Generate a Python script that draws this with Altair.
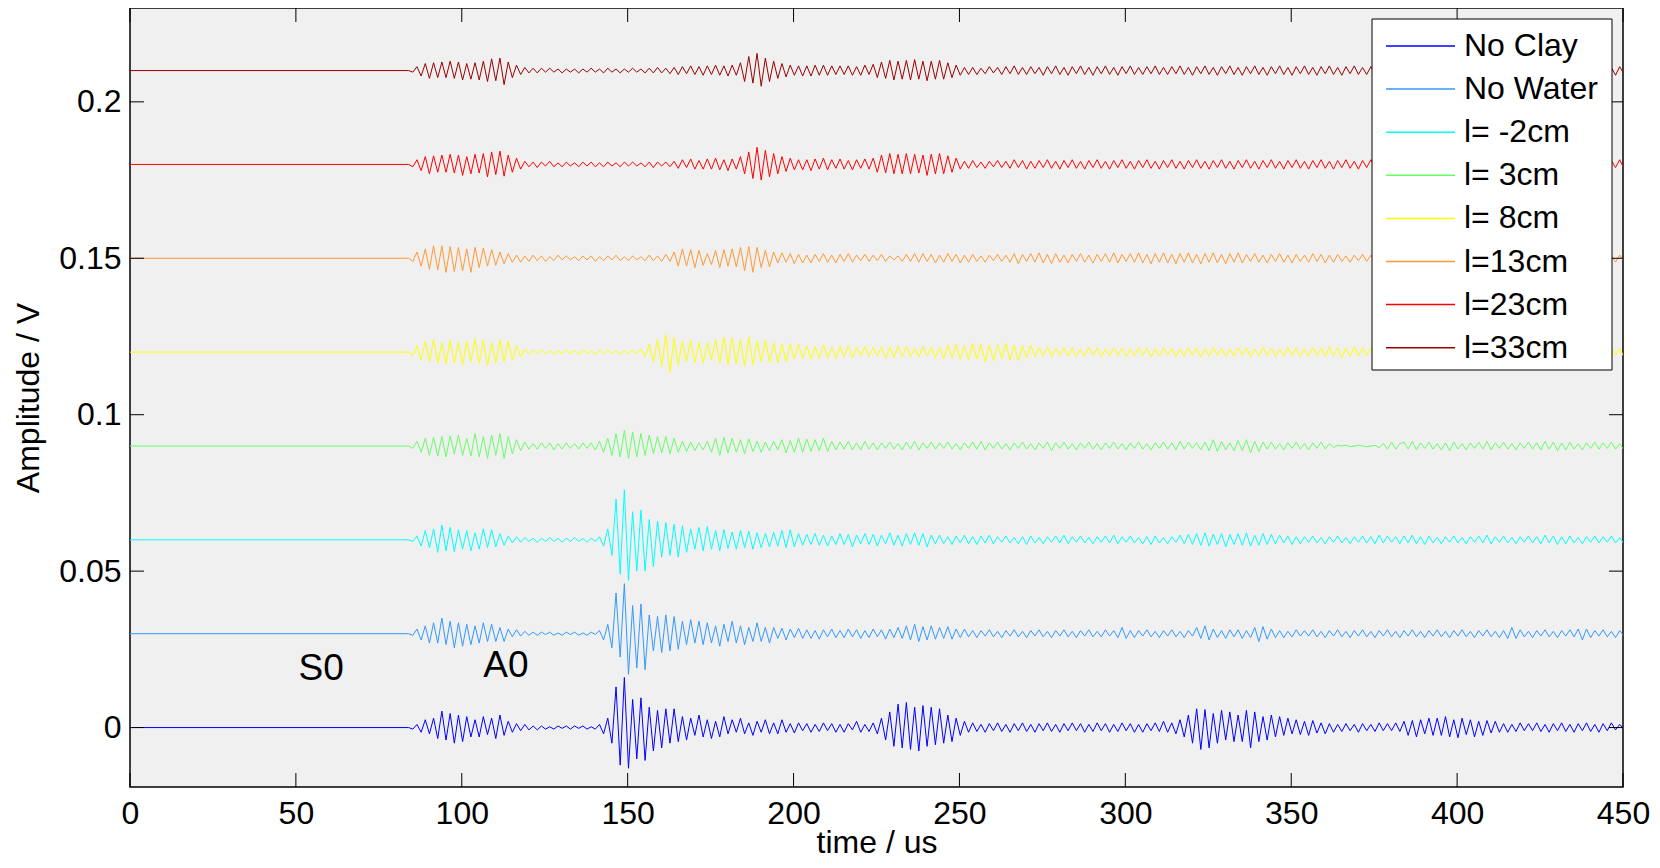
import altair as alt
import pandas as pd

# ---------------- data ----------------
T_START = 84.0     # us, start of the recorded wave packet (flat before)
T_STEP = 1.25      # us between successive extrema
UNIT = 0.00025     # V per data unit (0.25 mV)

SERIES = ["No Clay", "No Water", "l= -2cm", "l= 3cm", "l= 8cm", "l=13cm", "l=23cm", "l=33cm"]
OFFSETS = [0.0, 0.03, 0.06, 0.09, 0.12, 0.15, 0.18, 0.21]
COLORS = ["#0000ff", "#3399ff", "#00ffff", "#66ff66", "#ffff00", "#ff9933", "#ff0000", "#990000"]

X_TICKS = [0, 50, 100, 150, 200, 250, 300, 350, 400, 450]
Y_TICKS = [0, 0.05, 0.1, 0.15, 0.2]

ANNOT_TEXT = ["S0", "A0"]
ANNOT_T = [57.6, 113.3]
ANNOT_V = [0.0188, 0.0197]

# each row = 8 extrema = 10 us (rows start at 84, 94, 104, ... us)
NO_CLAY = [
    [0, -2, 4, -6, 10, -8, 12, -14], [21, -16, 18, -20, 16, -18, 14, -12],
    [10, -12, 14, -9, 12, -14, 16, -10], [8, -6, 5, -4, 4, -3, 2, -3],
    [2, -2, 1, -2, 2, -1, 2, -2], [2, -1, 2, -2, 1, -2, 4, -8],
    [12, -20, 52, -48, 64, -52, 36, -40], [38, -42, 26, -30, 22, -26, 24, -20],
    [24, -18, 14, -16, 12, -10, 16, -12], [10, -14, 8, -12, 14, -8, 10, -6],
    [12, -8, 6, -10, 8, -6, 10, -8], [6, -8, 10, -6, 5, -7, 6, -4],
    [5, -6, 4, -5, 6, -4, 5, -6], [4, -6, 5, -3, 8, -6, 4, -5],
    [6, -8, 12, -16, 20, -24, 30, -26], [32, -28, 26, -30, 28, -24, 26, -22],
    [24, -20, 16, -18, 12, -10, 8, -6], [6, -5, 4, -6, 5, -4, 6, -5],
    [4, -6, 5, -4, 6, -5, 4, -6], [5, -4, 6, -5, 4, -6, 5, -4],
    [6, -4, 5, -6, 4, -5, 6, -4], [5, -6, 4, -5, 6, -4, 5, -6],
    [4, -6, 5, -4, 6, -5, 8, -6], [6, -8, 10, -12, 16, -20, 24, -28],
    [23, -26, 18, -20, 22, -16, 20, -18], [16, -18, 22, -26, 20, -18, 14, -16],
    [16, -12, 14, -10, 12, -8, 10, -9], [8, -10, 9, -7, 6, -8, 5, -6],
    [4, -5, 5, -4, 4, -6, 5, -4], [4, -5, 6, -4, 5, -4, 6, -5],
    [8, -10, 9, -12, 10, -8, 12, -10], [12, -10, 14, -12, 10, -13, 12, -9],
    [10, -12, 8, -10, 9, -7, 8, -6], [5, -6, 4, -5, 6, -4, 5, -4],
    [6, -5, 4, -6, 5, -4, 6, -5], [4, -6, 5, -4, 6, -5, 4, -6],
    [5, -4, 6, -3, 4, -2, 3, 2],
]
NO_WATER = [
    [0, -2, 6, -8, 10, -12, 14, -12], [20, -14, 16, -18, 14, -16, 12, -14],
    [10, -12, 14, -10, 12, -10, 8, -10], [6, -4, 5, -3, 3, -2, 2, -2],
    [2, -1, 2, -2, 1, -2, 2, -1], [2, -2, 1, -2, 2, -1, 4, -8],
    [12, -18, 52, -30, 64, -52, 36, -44], [38, -46, 24, -22, 22, -24, 24, -22],
    [22, -20, 16, -14, 18, -12, 16, -14], [14, -12, 10, -16, 12, -10, 16, -12],
    [10, -14, 8, -10, 14, -10, 8, -12], [8, -6, 7, -8, 6, -5, 7, -6],
    [5, -6, 4, -7, 5, -4, 6, -5], [4, -5, 6, -4, 5, -6, 4, -5],
    [6, -4, 5, -7, 6, -5, 8, -6], [10, -8, 12, -10, 9, -8, 10, -7],
    [8, -6, 9, -7, 6, -5, 6, -4], [4, -5, 4, -3, 5, -4, 3, -5],
    [4, -3, 5, -4, 3, -5, 4, -3], [5, -4, 3, -5, 4, -3, 5, -4],
    [3, -5, 4, -3, 5, -4, 3, -4], [5, -3, 4, -5, 8, -6, 4, -5],
    [4, -3, 5, -4, 3, -5, 4, -3], [5, -4, 3, -5, 4, -3, 8, -6],
    [10, -8, 6, -5, 4, -6, 5, -4], [5, -6, 4, -5, 8, -10, 9, -7],
    [6, -5, 4, -5, 3, -4, 5, -3], [4, -3, 5, -4, 3, -5, 4, -3],
    [5, -4, 3, -5, 4, -3, 5, -4], [3, -5, 4, -3, 5, -4, 3, -5],
    [4, -3, 5, -4, 3, -5, 4, -3], [5, -4, 3, -5, 4, -3, 5, -4],
    [3, -5, 4, -3, 5, -4, 3, -5], [4, -6, 8, -6, 5, -4, 3, -5],
    [4, -3, 5, -4, 3, -5, 4, -3], [5, -4, 6, -8, 6, -5, 4, -3],
    [5, -4, 3, -5, 4, -3, 5, -4],
]
L_M2 = [
    [0, -2, 5, -8, 12, -10, 14, -16], [19, -14, 16, -15, 13, -12, 12, -14],
    [9, -12, 14, -10, 13, -9, 8, -7], [5, -4, 4, -3, 3, -2, 2, -3],
    [2, -2, 3, -2, 2, -3, 2, -2], [3, -2, 2, -3, 2, -2, 4, -8],
    [14, -20, 52, -44, 64, -52, 36, -40], [38, -40, 26, -34, 24, -22, 22, -20],
    [20, -22, 18, -16, 14, -12, 16, -14], [17, -12, 12, -14, 13, -11, 10, -12],
    [12, -10, 11, -12, 9, -10, 8, -9], [10, -8, 12, -10, 13, -9, 8, -7],
    [7, -6, 8, -7, 6, -8, 5, -6], [8, -6, 7, -9, 6, -5, 8, -6],
    [7, -8, 6, -5, 9, -7, 6, -8], [8, -6, 9, -7, 8, -9, 6, -5],
    [6, -5, 4, -6, 5, -4, 6, -5], [4, -6, 5, -4, 6, -5, 4, -3],
    [5, -4, 3, -5, 4, -6, 5, -4], [3, -5, 4, -3, 5, -4, 6, -5],
    [4, -3, 5, -4, 3, -5, 4, -3], [5, -4, 6, -5, 4, -3, 5, -4],
    [3, -5, 4, -6, 5, -4, 3, -5], [4, -3, 6, -5, 7, -6, 8, -7],
    [9, -8, 7, -6, 8, -9, 7, -6], [8, -7, 9, -8, 6, -7, 8, -6],
    [7, -5, 6, -4, 5, -6, 4, -5], [4, -3, 5, -4, 3, -5, 4, -3],
    [5, -4, 3, -5, 4, -3, 5, -4], [4, -5, 6, -4, 5, -3, 4, -5],
    [5, -4, 6, -5, 4, -6, 5, -4], [3, -5, 4, -3, 5, -4, 3, -5],
    [4, -3, 5, -4, 6, -5, 4, -3], [5, -4, 3, -5, 4, -3, 5, -4],
    [4, -5, 6, -4, 5, -6, 4, -5], [5, -4, 3, -5, 4, -3, 5, -4],
    [4, -3, 5, -4, 3, -5, 4, -3],
]
L_3 = [
    [0, -3, 6, -8, 10, -12, 11, -13], [12, -14, 13, -10, 14, -12, 10, -13],
    [16, -14, 12, -16, 14, -12, 16, -16], [12, -10, 8, -6, 5, -4, 3, -4],
    [4, -3, 4, -5, 3, -4, 4, -3], [3, -4, 4, -3, 4, -5, 6, -8],
    [10, -12, 16, -14, 20, -16, 18, -14], [16, -12, 14, -10, 12, -9, 12, -10],
    [10, -8, 6, -7, 5, -6, 4, -5], [6, -8, 10, -12, 11, -9, 10, -8],
    [8, -10, 9, -7, 6, -8, 5, -6], [6, -5, 8, -9, 7, -8, 10, -8],
    [9, -7, 8, -6, 10, -7, 6, -5], [5, -4, 6, -5, 4, -5, 6, -4],
    [4, -5, 4, -3, 5, -4, 3, -5], [5, -4, 6, -5, 4, -3, 5, -4],
    [4, -3, 5, -4, 3, -5, 4, -3], [5, -4, 6, -5, 4, -3, 5, -4],
    [3, -5, 4, -3, 5, -4, 3, -5], [4, -3, 5, -6, 4, -3, 5, -4],
    [3, -5, 4, -3, 5, -4, 3, -5], [4, -3, 5, -4, 3, -5, 4, -3],
    [5, -4, 3, -5, 4, -3, 5, -4], [4, -5, 6, -4, 5, -3, 4, -5],
    [5, -6, 8, -7, 6, -5, 4, -6], [7, -6, 8, -9, 6, -7, 5, -4],
    [5, -4, 3, -5, 4, -3, 5, -4], [3, -5, 4, -3, 5, -4, 3, -2],
    [1, 0, 1, -1, 0, 1, 0, -1], [0, 1, -2, 3, -4, 5, -4, 3],
    [5, -4, 6, -5, 4, -3, 5, -4], [3, -5, 4, -6, 5, -4, 3, -5],
    [4, -3, 5, -4, 6, -5, 4, -3], [5, -4, 3, -5, 4, -3, 5, -4],
    [4, -5, 6, -4, 5, -6, 4, -5], [5, -4, 3, -5, 4, -3, 5, -4],
    [4, -3, 5, -4, 3, -5, 4, -3],
]
L_8 = [
    [0, -4, 8, -10, 14, -12, 16, -14], [12, -15, 16, -14, 13, -16, 14, -12],
    [17, -14, 15, -17, 12, -14, 16, -12], [14, -10, 8, -6, 4, -3, 3, -2],
    [3, -2, 2, -3, 2, -2, 3, -2], [2, -3, 3, -2, 2, -3, 2, -2],
    [3, -2, 2, -3, 2, -2, 3, -2], [4, -6, 10, -12, 16, -18, 22, -26],
    [18, -16, 14, -12, 15, -13, 12, -14], [12, -10, 16, -14, 19, -16, 18, -15],
    [16, -18, 19, -16, 14, -12, 15, -13], [12, -14, 10, -12, 11, -9, 10, -8],
    [8, -9, 7, -8, 9, -7, 6, -8], [7, -6, 8, -7, 6, -5, 7, -6],
    [6, -5, 7, -8, 6, -7, 8, -6], [7, -6, 5, -6, 7, -5, 6, -7],
    [6, -8, 9, -7, 10, -9, 8, -10], [11, -9, 10, -12, 9, -11, 10, -8],
    [11, -10, 9, -11, 8, -7, 9, -6], [6, -5, 7, -6, 5, -4, 6, -5],
    [5, -6, 4, -5, 6, -4, 5, -6], [4, -5, 6, -4, 5, -6, 4, -5],
    [6, -4, 5, -6, 4, -5, 6, -4], [5, -6, 4, -5, 6, -4, 5, -6],
    [4, -5, 6, -4, 5, -6, 4, -5], [6, -4, 5, -6, 4, -5, 6, -4],
    [5, -6, 4, -5, 6, -4, 5, -6], [4, -5, 6, -4, 5, -6, 7, -5],
    [6, -7, 5, -6, 7, -5, 6, -4], [5, -6, 4, -5, 6, -4, 5, -6],
    [4, -5, 6, -4, 5, -6, 4, -5], [6, -4, 5, -6, 4, -5, 6, -4],
    [5, -6, 4, -5, 6, -4, 5, -6], [4, -5, 6, -4, 5, -6, 4, -5],
    [6, -4, 5, -6, 4, -5, 6, -4], [5, -6, 4, -5, 6, -4, 5, -6],
    [4, -5, 6, -4, 5, -6, 4, -5],
]
L_13 = [
    [0, -4, 8, -10, 12, -14, 16, -15], [16, -18, 15, -17, 14, -16, 12, -18],
    [14, -12, 13, -10, 11, -9, 8, -7], [6, -5, 4, -5, 3, -4, 4, -3],
    [3, -4, 2, -3, 4, -2, 3, -2], [2, -3, 3, -2, 3, -4, 2, -3],
    [3, -2, 4, -3, 2, -3, 3, -2], [2, -3, 4, -3, 3, -4, 5, -4],
    [8, -10, 12, -10, 11, -12, 10, -9], [6, -8, 10, -12, 11, -10, 12, -11],
    [14, -16, 15, -18, 14, -12, 10, -11], [8, -6, 7, -5, 6, -7, 5, -6],
    [4, -6, 5, -4, 6, -5, 4, -6], [5, -4, 6, -5, 4, -3, 5, -4],
    [4, -3, 5, -4, 3, -2, 3, -4], [5, -4, 6, -5, 6, -4, 5, -6],
    [4, -5, 6, -4, 5, -6, 4, -5], [5, -4, 3, -5, 4, -3, 5, -4],
    [4, -5, 6, -7, 5, -4, 6, -5], [7, -6, 5, -7, 6, -5, 4, -6],
    [5, -4, 6, -5, 4, -6, 5, -4], [6, -5, 7, -6, 5, -4, 6, -5],
    [7, -6, 5, -7, 6, -5, 7, -6], [5, -7, 6, -5, 7, -6, 5, -7],
    [6, -5, 7, -6, 5, -7, 6, -5], [7, -6, 5, -4, 6, -5, 4, -6],
    [5, -4, 6, -5, 4, -6, 5, -4], [4, -5, 6, -4, 5, -6, 4, -5],
    [5, -4, 3, -5, 4, -3, 5, -4], [4, -5, 6, -4, 5, -6, 4, -5],
    [5, -4, 3, -5, 4, -3, 5, -4], [4, -5, 6, -4, 5, -6, 4, -5],
    [5, -4, 3, -5, 4, -3, 5, -4], [4, -5, 6, -4, 5, -6, 4, -5],
    [5, -4, 3, -5, 4, -3, 5, -4], [4, -5, 6, -4, 5, -6, 4, -5],
    [5, -4, 3, -5, 4, -3, 5, -4],
]
L_23 = [
    [0, -3, 6, -8, 10, -12, 11, -10], [12, -10, 13, -11, 12, -14, 10, -12],
    [13, -11, 14, -16, 16, -13, 17, -15], [12, -10, 8, -6, 4, -3, 3, -4],
    [3, -2, 4, -3, 2, -3, 3, -2], [2, -3, 3, -2, 3, -3, 2, -3],
    [3, -2, 2, -3, 3, -2, 3, -2], [2, -3, 3, -4, 3, -2, 3, -3],
    [4, -5, 6, -4, 7, -6, 5, -6], [7, -6, 8, -7, 6, -8, 7, -6],
    [10, -12, 16, -18, 22, -20, 18, -16], [14, -12, 10, -9, 8, -7, 6, -7],
    [6, -8, 7, -6, 8, -7, 6, -5], [7, -6, 5, -7, 6, -5, 7, -6],
    [8, -10, 12, -11, 14, -12, 13, -12], [14, -12, 13, -11, 12, -14, 13, -12],
    [14, -12, 11, -10, 8, -6, 4, -5], [5, -4, 3, -5, 4, -3, 5, -4],
    [4, -5, 6, -4, 5, -6, 4, -5], [5, -4, 6, -5, 4, -6, 5, -4],
    [6, -5, 4, -6, 5, -4, 6, -5], [4, -6, 5, -4, 6, -5, 4, -6],
    [5, -4, 6, -5, 4, -6, 5, -4], [6, -5, 4, -6, 5, -4, 6, -5],
    [4, -6, 5, -4, 6, -5, 4, -6], [5, -4, 6, -5, 4, -6, 5, -4],
    [6, -5, 4, -6, 5, -4, 6, -5], [4, -6, 5, -4, 6, -5, 4, -6],
    [5, -4, 6, -5, 4, -6, 5, -4], [6, -5, 4, -6, 5, -4, 6, -5],
    [4, -6, 5, -4, 6, -5, 4, -6], [5, -4, 6, -5, 4, -6, 5, -4],
    [6, -5, 4, -6, 5, -4, 6, -5], [4, -6, 5, -4, 6, -5, 4, -6],
    [5, -4, 6, -5, 4, -6, 5, -4], [6, -5, 4, -6, 5, -4, 6, -5],
    [4, -6, 5, -4, 6, -5, 4, -6],
]
L_33 = [
    [0, -2, 5, -7, 9, -10, 10, -9], [11, -9, 12, -10, 11, -12, 9, -11],
    [10, -12, 12, -14, 15, -13, 16, -18], [11, -9, 7, -5, 4, -3, 3, -3],
    [3, -2, 3, -2, 2, -3, 2, -2], [2, -3, 2, -2, 3, -2, 2, -3],
    [3, -2, 2, -3, 2, -2, 3, -2], [2, -3, 3, -3, 4, -3, 3, -4],
    [4, -5, 5, -4, 6, -5, 5, -6], [6, -5, 7, -6, 6, -7, 7, -6],
    [10, -14, 18, -16, 22, -20, 16, -14], [12, -10, 9, -8, 7, -6, 6, -7],
    [6, -7, 7, -6, 7, -6, 6, -5], [6, -5, 6, -6, 5, -6, 7, -5],
    [8, -9, 11, -10, 13, -12, 12, -11], [13, -12, 14, -11, 12, -13, 12, -11],
    [13, -11, 10, -9, 7, -6, 4, -5], [4, -5, 3, -4, 5, -3, 4, -5],
    [5, -4, 6, -5, 4, -5, 5, -4], [4, -6, 5, -4, 6, -5, 4, -6],
    [5, -4, 6, -5, 4, -6, 5, -4], [6, -5, 4, -6, 5, -4, 6, -5],
    [4, -5, 5, -4, 6, -5, 4, -5], [5, -4, 6, -5, 4, -6, 5, -4],
    [6, -5, 4, -6, 5, -4, 6, -5], [4, -6, 5, -4, 6, -5, 4, -6],
    [5, -4, 6, -5, 4, -6, 5, -4], [6, -5, 4, -6, 5, -4, 6, -5],
    [4, -6, 5, -4, 6, -5, 4, -5], [5, -4, 6, -5, 4, -6, 5, -4],
    [6, -5, 4, -6, 5, -4, 6, -5], [4, -6, 5, -4, 6, -5, 4, -6],
    [5, -4, 6, -5, 4, -6, 5, -4], [6, -5, 4, -6, 5, -4, 6, -5],
    [4, -6, 5, -4, 6, -5, 4, -6], [5, -4, 6, -5, 4, -6, 5, -4],
    [6, -5, 4, -6, 5, -4, 6, -5],
]
TRACES = [NO_CLAY, NO_WATER, L_M2, L_3, L_8, L_13, L_23, L_33]

# ---------------- build tables ----------------
rows = []
for s_idx, (name, off, trace) in enumerate(zip(SERIES, OFFSETS, TRACES)):
    flat = [u for row in trace for u in row]
    rows.append({"series": name, "order": s_idx, "t": 0.0, "v": off})
    for k, u in enumerate(flat):
        rows.append({"series": name, "order": s_idx, "t": T_START + T_STEP * k, "v": off + u * UNIT})
df = pd.DataFrame(rows)

legend_df = pd.DataFrame({"series": SERIES, "i": list(range(len(SERIES)))})
xt_df = pd.DataFrame({"t": X_TICKS})
yt_df = pd.DataFrame({"v": Y_TICKS})
ann_df = pd.DataFrame({"label": ANNOT_TEXT, "t": ANNOT_T, "v": ANNOT_V})

FONT = "Liberation Sans"
W, H = 1493, 779
xscale = alt.Scale(domain=[0, 450], nice=False, zero=False)
yscale = alt.Scale(domain=[-0.019, 0.23], nice=False, zero=False)
cscale = alt.Scale(domain=SERIES, range=COLORS)

XAXIS = alt.Axis(values=X_TICKS, title="time / us", grid=False, ticks=False, tickSize=0,
                 domain=False, labelFlush=False, labelPadding=11, labelFontSize=32,
                 titleFontSize=32, titleFontWeight="normal", titleY=65,
                 titleBaseline="alphabetic")
YAXIS = alt.Axis(values=Y_TICKS, format="~g", title="Amplitude / V", grid=False,
                 ticks=False, tickSize=0, domain=False, labelPadding=9,
                 labelFontSize=32, titleFontSize=32, titleFontWeight="normal",
                 titlePadding=13)

X = alt.X("t:Q", scale=xscale, axis=XAXIS, title="time / us")
Y = alt.Y("v:Q", scale=yscale, axis=YAXIS, title="Amplitude / V")

lines = alt.Chart(df).mark_line(strokeWidth=1, clip=True).encode(
    x=X, y=Y,
    color=alt.Color("series:N", scale=cscale, legend=None),
    detail="order:O",
)

tick_b = alt.Chart(xt_df).mark_rule(color="black", strokeWidth=1).encode(
    x=X, y=alt.value(H), y2=alt.value(H - 14))
tick_t = alt.Chart(xt_df).mark_rule(color="black", strokeWidth=1).encode(
    x=X, y=alt.value(0), y2=alt.value(14))
tick_l = alt.Chart(yt_df).mark_rule(color="black", strokeWidth=1).encode(
    y=Y, x=alt.value(0), x2=alt.value(14))
tick_r = alt.Chart(yt_df).mark_rule(color="black", strokeWidth=1).encode(
    y=Y, x=alt.value(W), x2=alt.value(W - 14))

ann = alt.Chart(ann_df).mark_text(fontSize=37, font=FONT, color="black",
                                  align="center", baseline="middle").encode(
    x=X, y=Y, text="label:N")

leg_box = alt.Chart(pd.DataFrame({"k": [0]})).mark_rect(
    fill="white", stroke="black", strokeWidth=1).encode(
    x=alt.value(1242), x2=alt.value(1482), y=alt.value(11), y2=alt.value(362))

leg_base = alt.Chart(legend_df).transform_calculate(ly="38 + 43.1 * datum.i")
leg_lines = leg_base.mark_rule(strokeWidth=1.5).encode(
    x=alt.value(1256), x2=alt.value(1325),
    y=alt.Y("ly:Q", scale=None),
    color=alt.Color("series:N", scale=cscale, legend=None))
leg_text = leg_base.mark_text(align="left", baseline="middle", fontSize=32, font=FONT,
                              color="black").encode(
    x=alt.value(1334),
    y=alt.Y("ly:Q", scale=None),
    text="series:N")

chart = alt.layer(
    lines, tick_b, tick_t, tick_l, tick_r, ann, leg_box, leg_lines, leg_text
).properties(
    width=W, height=H,
    padding={"left": 122, "top": 0, "right": 28, "bottom": 72},
    autosize=alt.AutoSizeParams(type="none"),
    background="white",
).configure_view(
    fill="#f0f0f0", stroke="black", strokeWidth=1.5
).configure_axis(
    labelFont=FONT, titleFont=FONT, labelColor="black", titleColor="black"
).configure_text(font=FONT)

chart.save("out.html", embed_options={"renderer": "svg", "actions": False})
